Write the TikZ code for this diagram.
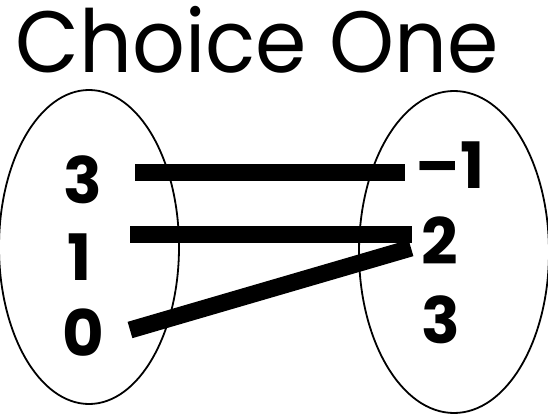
\documentclass[tikz,border=0pt]{standalone}
\usepackage{fontspec}
\setmainfont{Poppins}
\usetikzlibrary{shapes.geometric}
\begin{document}
\begin{tikzpicture}[x=1pt,y=-1pt,
  setoval/.style={draw,ellipse,line width=1.8pt,inner sep=0pt},
  num/.style={inner sep=0pt,font=\fontsize{64}{64}\selectfont\bfseries},
  link/.style={line width=17pt,line cap=butt}]
\useasboundingbox (0,0) rectangle (548,414);
\node[inner sep=0pt,font=\fontsize{87}{87}\selectfont,anchor=base] (title) at (257,73) {\scalebox{0.95}[1]{Choice One}};
\node[setoval,minimum width=180pt,minimum height=314pt] (L) at (89,247) {};
\node[setoval,minimum width=190pt,minimum height=322pt] (R) at (454,252) {};
\node[num] (l3) at (83,180) {3};
\node[num] (l1) at (80,257) {1};
\node[num] (l0) at (83,333) {0};
\node[num] (rm1) at (450,165) {–1};
\node[num] (r2) at (440,241) {2};
\node[num] (r3) at (441,320) {3};
\coordinate (a1) at (135,172.5);
\coordinate (b1) at (405,172.5);
\coordinate (a2) at (130,234.5);
\coordinate (b2) at (412,234.5);
\coordinate (a3) at (130,330);
\coordinate (b3) at (411,248);
\draw[link] (a1) -- (b1);
\draw[link] (a2) -- (b2);
\draw[link] (a3) -- (b3);
\end{tikzpicture}
\end{document}
